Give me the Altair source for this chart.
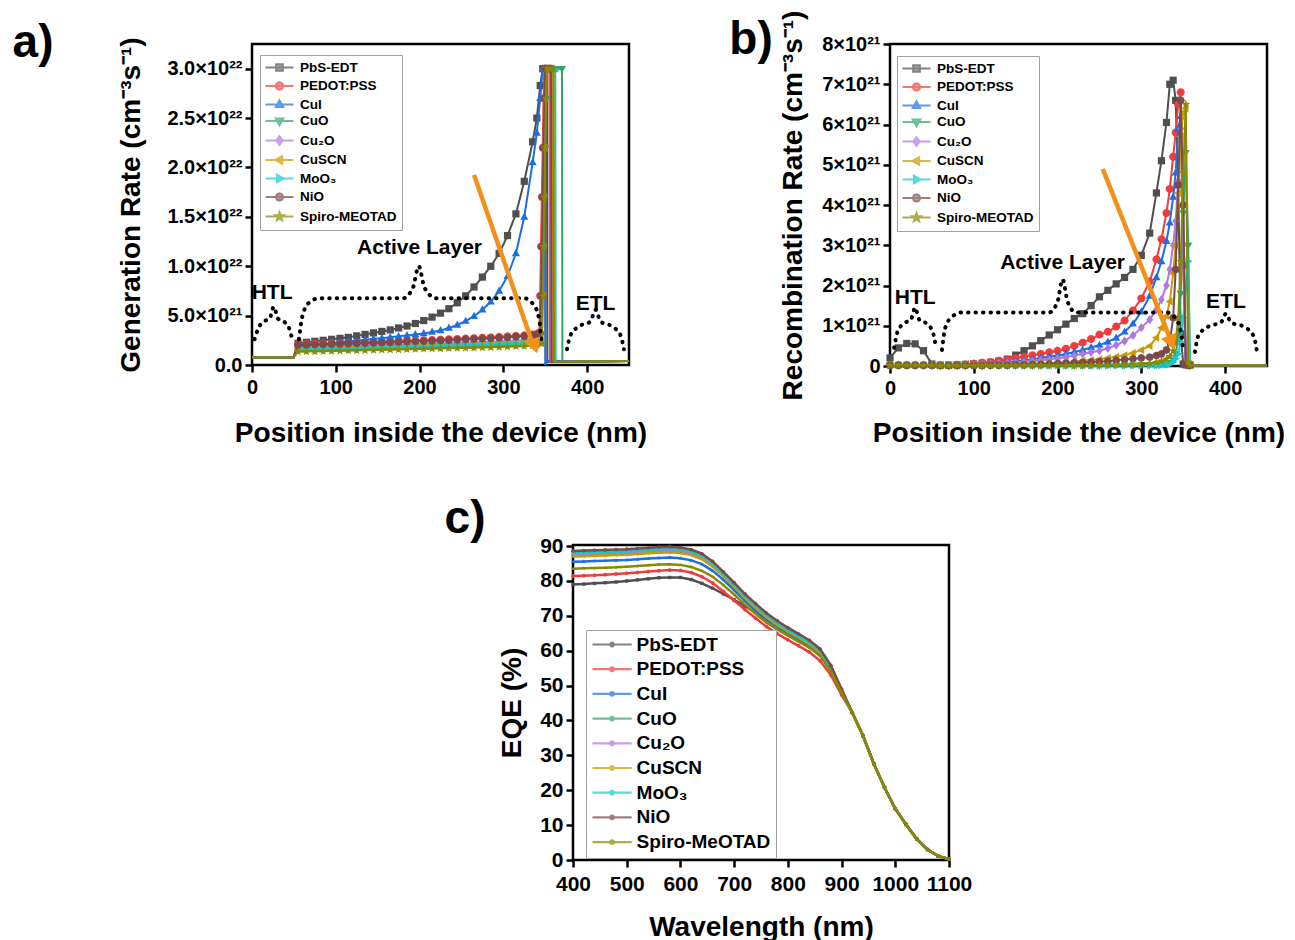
import math
import altair as alt
import pandas as pd

FONT = "Liberation Sans"

SERIES_AB = ["PbS-EDT", "PEDOT:PSS", "CuI", "CuO", "Cu\u2082O", "CuSCN", "MoO\u2083", "NiO", "Spiro-MEOTAD"]
SERIES_C = ["PbS-EDT", "PEDOT:PSS", "CuI", "CuO", "Cu\u2082O", "CuSCN", "MoO\u2083", "NiO", "Spiro-MeOTAD"]
COLORS = ["#4f4f4f", "#f03c3c", "#1d6ee0", "#2fa56a", "#ad78df", "#c99a06", "#16c8cc", "#7c4a4a", "#8a8a00"]

# ---------------- panel a : generation rate (x1e21 cm-3 s-1) ----------------
A_HTL_X = [0, 49.5]
A_HTL_Y = [0.75, 0.75]
A_X = [55, 65, 75, 85, 95, 105, 115, 125, 135, 145, 155, 165, 175, 185, 195,
       205, 215, 225, 235, 245, 255, 265, 275, 285, 295, 305, 315, 325, 335]
A_PBS = [2.2, 2.3, 2.4, 2.5, 2.6, 2.7, 2.8, 2.95, 3.1, 3.25, 3.4, 3.55, 3.75, 3.95, 4.2,
         4.5, 4.85, 5.25, 5.7, 6.3, 7.0, 7.9, 8.9, 10.0, 11.3, 13.1, 15.3, 18.6, 22.6]
A_PEDOT = [2.1, 2.12, 2.15, 2.18, 2.2, 2.22, 2.25, 2.28, 2.3, 2.33, 2.36, 2.39, 2.42, 2.45, 2.48,
           2.51, 2.54, 2.57, 2.6, 2.64, 2.68, 2.72, 2.76, 2.8, 2.85, 2.9, 2.95, 3.0, 3.1]
A_CUI = [1.8, 1.9, 2.0, 2.1, 2.2, 2.3, 2.4, 2.45, 2.55, 2.65, 2.72, 2.8, 2.9, 3.0, 3.1,
         3.2, 3.35, 3.5, 3.75, 4.05, 4.45, 4.95, 5.6, 6.4, 7.5, 9.0, 11.3, 15.0, 20.5]
A_CUO = [1.5, 1.51, 1.52, 1.54, 1.56, 1.58, 1.6, 1.62, 1.64, 1.66, 1.68, 1.7, 1.72, 1.74, 1.76,
         1.78, 1.8, 1.82, 1.84, 1.86, 1.88, 1.9, 1.92, 1.94, 1.97, 2.0, 2.03, 2.06, 2.12]
A_CU2O = [1.85, 1.87, 1.89, 1.91, 1.93, 1.95, 1.97, 1.99, 2.01, 2.03, 2.05, 2.07, 2.09, 2.11, 2.13,
          2.15, 2.17, 2.19, 2.21, 2.24, 2.27, 2.3, 2.33, 2.36, 2.4, 2.44, 2.48, 2.52, 2.6]
A_CUSCN = [1.7, 1.72, 1.74, 1.76, 1.78, 1.8, 1.82, 1.84, 1.86, 1.88, 1.9, 1.92, 1.94, 1.96, 1.98,
           2.0, 2.02, 2.04, 2.06, 2.08, 2.1, 2.12, 2.15, 2.18, 2.21, 2.24, 2.27, 2.3, 2.38]
A_MOO3 = [1.6, 1.62, 1.64, 1.66, 1.68, 1.7, 1.72, 1.74, 1.76, 1.78, 1.8, 1.82, 1.84, 1.86, 1.88,
          1.9, 1.92, 1.94, 1.96, 1.98, 2.0, 2.02, 2.05, 2.08, 2.11, 2.14, 2.17, 2.2, 2.26]
A_NIO = [2.0, 2.02, 2.05, 2.08, 2.1, 2.12, 2.15, 2.18, 2.2, 2.23, 2.26, 2.29, 2.32, 2.35, 2.38,
         2.41, 2.44, 2.47, 2.5, 2.54, 2.58, 2.62, 2.66, 2.7, 2.75, 2.8, 2.85, 2.9, 3.0]
A_SPIRO = [1.35, 1.36, 1.37, 1.39, 1.41, 1.43, 1.45, 1.47, 1.49, 1.51, 1.53, 1.55, 1.57, 1.59, 1.61,
           1.63, 1.65, 1.67, 1.69, 1.71, 1.73, 1.75, 1.77, 1.79, 1.82, 1.85, 1.88, 1.91, 1.96]
# peak / drop / ETL parts
A_TX_PBS = [340, 344, 347, 352, 352.5, 450]
A_TY_PBS = [25.0, 28.3, 30.0, 30.0, 0.3, 0.4]
A_TX_PEDOT = [340, 343, 344, 345, 346, 347, 348, 349, 352, 355, 355.5, 450]
A_TY_PEDOT = [3.15, 3.3, 7.0, 12.0, 17.0, 22.0, 27.0, 30.0, 30.0, 30.0, 0.3, 0.4]
A_TX_CUI = [340, 344, 347, 349.5, 350, 352, 450]
A_TY_CUI = [23.5, 27.0, 30.0, 30.0, 0.0, 0.4, 0.4]
A_TX_CUO = [340, 346, 347, 348, 349, 350, 351, 352, 358, 364, 370, 370.5, 450]
A_TY_CUO = [2.16, 2.3, 7.0, 12.0, 17.0, 22.0, 27.0, 30.0, 30.0, 30.0, 30.0, 0.3, 0.4]
A_TX_CU2O = [340, 344, 345, 346, 347, 348, 349, 350, 353, 356, 356.5, 450]
A_TY_CU2O = [2.65, 2.8, 7.0, 12.0, 17.0, 22.0, 27.0, 30.0, 30.0, 30.0, 0.3, 0.4]
A_TX_CUSCN = [340, 345, 346, 347, 348, 349, 350, 351, 354, 358, 358.5, 450]
A_TY_CUSCN = [2.42, 2.55, 7.0, 12.0, 17.0, 22.0, 27.0, 30.0, 30.0, 30.0, 0.3, 0.4]
A_TX_MOO3 = [340, 345, 346, 347, 348, 349, 350, 351, 356, 362, 362.5, 450]
A_TY_MOO3 = [2.3, 2.45, 7.0, 12.0, 17.0, 22.0, 27.0, 30.0, 30.0, 30.0, 0.3, 0.4]
A_TX_NIO = [340, 344, 345, 346, 347, 348, 349, 350, 354, 357, 357.5, 450]
A_TY_NIO = [3.05, 3.2, 7.0, 12.0, 17.0, 22.0, 27.0, 30.0, 30.0, 30.0, 0.3, 0.4]
A_TX_SPIRO = [340, 346, 347, 348, 349, 350, 351, 352, 356, 360, 360.5, 450]
A_TY_SPIRO = [2.0, 2.15, 7.0, 12.0, 17.0, 22.0, 27.0, 30.0, 30.0, 30.0, 0.3, 0.4]

A_BRACE_X = [[3, 8, 14, 21, 26, 31, 38, 44, 48],
             [56, 60, 68, 80, 180, 192, 199, 206, 220, 325, 337, 343, 345],
             [376, 380, 390, 404, 410, 416, 430, 440, 444]]
A_BRACE_Y = [[2.6, 3.8, 4.4, 4.7, 5.9, 4.7, 4.4, 3.8, 2.6],
             [2.6, 4.9, 6.3, 6.75, 6.75, 7.8, 10.0, 7.8, 6.75, 6.75, 6.0, 4.5, 2.6],
             [1.6, 3.0, 3.9, 4.4, 5.6, 4.4, 3.9, 3.0, 1.6]]
A_LABEL_TEXT = ["HTL", "Active Layer", "ETL"]
A_LABEL_X = [24, 200, 410]
A_LABEL_Y = [7.3, 11.8, 6.2]
A_ARROW_X = [265, 334]
A_ARROW_Y = [19.25, 2.4]
A_HEAD_X = [337.5]
A_HEAD_Y = [1.9]

# ---------------- panel b : recombination rate (x1e21 cm-3 s-1) ----------------
B_X = [0, 10, 20, 30, 40, 50,
       60, 70, 80, 90, 100, 110, 120, 130, 140, 150, 160, 170, 180, 190, 200, 210, 220,
       230, 240, 250, 260, 270, 280, 290, 300,
       310, 318, 324, 330, 334, 338, 341, 344, 347, 350, 353, 356, 358,
       360, 400, 450]
B_PBS = [0.2, 0.45, 0.56, 0.55, 0.38, 0.05,
         0.02, 0.02, 0.03, 0.04, 0.05, 0.07, 0.09, 0.12, 0.17, 0.27, 0.38, 0.5, 0.63, 0.77, 0.9, 1.04, 1.18,
         1.3, 1.5, 1.72, 1.88, 2.04, 2.2, 2.4, 2.75,
         3.3, 4.3, 5.1, 6.05, 7.0, 7.1, 6.6, 4.5, 0.8, 0.05, 0.03, 0.02, 0.02,
         0.02, 0.02, 0.02]
B_PEDOT = [0.02, 0.02, 0.02, 0.02, 0.02, 0.02,
           0.02, 0.02, 0.03, 0.04, 0.06, 0.08, 0.1, 0.13, 0.16, 0.2, 0.23, 0.27, 0.3, 0.34, 0.38, 0.43, 0.5,
           0.58, 0.67, 0.78, 0.85, 0.98, 1.13, 1.38, 1.68,
           2.1, 2.65, 3.15, 3.8, 4.4, 5.2, 5.8, 6.5, 6.8, 2.5, 0.05, 0.02, 0.02,
           0.02, 0.02, 0.02]
B_CUI = [0.02, 0.02, 0.02, 0.02, 0.02, 0.02,
         0.02, 0.02, 0.02, 0.03, 0.04, 0.05, 0.06, 0.08, 0.1, 0.12, 0.14, 0.17, 0.2, 0.23, 0.26, 0.3, 0.35,
         0.4, 0.46, 0.52, 0.6, 0.7, 0.85, 1.05, 1.35,
         1.74, 2.2, 2.6, 3.1, 3.56, 4.2, 4.8, 5.9, 6.2, 4.0, 0.05, 0.02, 0.02,
         0.02, 0.02, 0.02]
B_CUO = [0.02, 0.02, 0.02, 0.02, 0.02, 0.02,
         0.01, 0.01, 0.01, 0.01, 0.01, 0.01, 0.01, 0.01, 0.01, 0.01, 0.01, 0.01, 0.01, 0.01, 0.01, 0.01, 0.01,
         0.01, 0.01, 0.01, 0.02, 0.02, 0.02, 0.02, 0.03,
         0.03, 0.03, 0.04, 0.05, 0.08, 0.15, 0.3, 0.7, 1.8, 3.8, 5.3, 3.0, 0.05,
         0.02, 0.02, 0.02]
B_CU2O = [0.02, 0.02, 0.02, 0.02, 0.02, 0.02,
          0.01, 0.01, 0.02, 0.02, 0.03, 0.04, 0.05, 0.06, 0.07, 0.08, 0.1, 0.12, 0.14, 0.16, 0.19, 0.22, 0.26,
          0.3, 0.34, 0.38, 0.44, 0.52, 0.62, 0.76, 0.95,
          1.15, 1.4, 1.65, 2.0, 2.4, 3.0, 3.6, 4.6, 5.9, 3.0, 0.05, 0.02, 0.02,
          0.02, 0.02, 0.02]
B_CUSCN = [0.02, 0.02, 0.02, 0.02, 0.02, 0.02,
           0.01, 0.01, 0.01, 0.01, 0.02, 0.02, 0.02, 0.03, 0.03, 0.04, 0.05, 0.05, 0.06, 0.07, 0.08, 0.1, 0.11,
           0.13, 0.15, 0.17, 0.2, 0.23, 0.27, 0.32, 0.4,
           0.5, 0.7, 0.95, 1.24, 1.6, 2.3, 3.0, 4.3, 5.7, 6.3, 6.4, 0.1, 0.02,
           0.02, 0.02, 0.02]
B_MOO3 = [0.02, 0.02, 0.02, 0.02, 0.02, 0.02,
          0.01, 0.01, 0.01, 0.01, 0.01, 0.01, 0.01, 0.01, 0.01, 0.01, 0.01, 0.01, 0.01, 0.01, 0.01, 0.01, 0.01,
          0.01, 0.01, 0.01, 0.01, 0.01, 0.01, 0.01, 0.01,
          0.01, 0.02, 0.02, 0.03, 0.05, 0.1, 0.18, 0.3, 0.6, 1.2, 1.9, 2.6, 0.05,
          0.02, 0.02, 0.02]
B_NIO = [0.02, 0.02, 0.02, 0.02, 0.02, 0.02,
         0.01, 0.01, 0.01, 0.01, 0.01, 0.01, 0.02, 0.02, 0.02, 0.03, 0.03, 0.04, 0.04, 0.05, 0.06, 0.07, 0.08,
         0.09, 0.1, 0.11, 0.12, 0.14, 0.16, 0.18, 0.2,
         0.22, 0.26, 0.3, 0.4, 0.6, 1.2, 2.4, 4.5, 6.6, 4.0, 0.05, 0.02, 0.02,
         0.02, 0.02, 0.02]
B_SPIRO = [0.02, 0.02, 0.02, 0.02, 0.02, 0.02,
           0.01, 0.01, 0.01, 0.01, 0.01, 0.01, 0.01, 0.01, 0.01, 0.01, 0.01, 0.01, 0.01, 0.01, 0.01, 0.01, 0.01,
           0.01, 0.01, 0.02, 0.02, 0.03, 0.03, 0.04, 0.05,
           0.06, 0.09, 0.12, 0.17, 0.24, 0.38, 0.6, 1.2, 2.6, 4.8, 6.5, 0.1, 0.02,
           0.02, 0.02, 0.02]

B_BRACE_X = [[5, 9, 16, 25, 30, 35, 44, 51, 55],
             [62, 66, 74, 86, 190, 200, 206, 212, 222, 330, 342, 348, 350],
             [364, 368, 380, 395, 401, 407, 422, 434, 438]]
B_BRACE_Y = [[0.45, 0.85, 1.05, 1.15, 1.45, 1.15, 1.05, 0.85, 0.45],
             [0.4, 0.95, 1.22, 1.33, 1.33, 1.6, 2.15, 1.6, 1.33, 1.33, 1.15, 0.75, 0.35],
             [0.35, 0.75, 0.98, 1.08, 1.3, 1.08, 0.98, 0.75, 0.35]]
B_LABEL_TEXT = ["HTL", "Active Layer", "ETL"]
B_LABEL_X = [30, 206, 401]
B_LABEL_Y = [1.7, 2.55, 1.58]
B_ARROW_X = [254, 333]
B_ARROW_Y = [4.89, 0.75]
B_HEAD_X = [336]
B_HEAD_Y = [0.58]

# ---------------- panel c : EQE (%) ----------------
C_X = [400, 420, 440, 460, 480, 500, 520, 540, 560, 580, 600, 620, 640,
       660, 680, 700, 720, 740, 760, 780, 800, 820, 840, 860, 880, 900]
C_TAIL_X = [920, 940, 960, 980, 1000, 1020, 1040, 1060, 1080, 1100]
C_TAIL_Y = [42.2, 35.6, 27.6, 20.8, 14.7, 10.2, 6.0, 3.0, 1.1, 0.3]
C_PBS = [79.0, 79.1, 79.3, 79.5, 79.7, 80.0, 80.3, 80.6, 80.9, 81.0, 81.0, 80.4, 79.3,
         77.9, 76.3, 74.6, 72.8, 70.9, 69.0, 67.1, 65.3, 63.5, 61.6, 59.1, 54.8, 48.5]
C_PEDOT = [81.4, 81.5, 81.6, 81.8, 82.0, 82.2, 82.4, 82.7, 82.9, 83.1, 83.0, 82.4, 81.2,
           79.4, 77.0, 74.4, 71.8, 69.3, 66.9, 64.9, 63.1, 61.4, 59.6, 57.1, 53.0, 47.3]
C_CUI = [85.5, 85.6, 85.7, 85.8, 85.9, 86.0, 86.2, 86.4, 86.6, 86.7, 86.5, 85.9, 84.8,
         82.9, 80.3, 77.4, 74.3, 71.5, 68.9, 66.8, 64.9, 63.2, 61.4, 58.9, 54.4, 48.2]
C_CUO = [88.3, 88.4, 88.5, 88.6, 88.7, 88.8, 89.0, 89.2, 89.4, 89.5, 89.3, 88.7, 87.5,
         85.3, 82.3, 79.2, 76.0, 73.2, 70.5, 68.3, 66.3, 64.5, 62.7, 60.2, 55.5, 48.8]
C_CU2O = [87.5, 87.6, 87.7, 87.8, 87.9, 88.0, 88.2, 88.4, 88.6, 88.7, 88.5, 87.9, 86.7,
          84.6, 81.7, 78.6, 75.4, 72.6, 69.9, 67.7, 65.7, 63.9, 62.1, 59.6, 55.0, 48.5]
C_CUSCN = [87.0, 87.1, 87.2, 87.3, 87.4, 87.5, 87.7, 87.9, 88.1, 88.2, 88.0, 87.4, 86.2,
           84.1, 81.3, 78.3, 75.1, 72.3, 69.6, 67.4, 65.5, 63.7, 61.9, 59.4, 54.8, 48.4]
C_MOO3 = [88.0, 88.1, 88.2, 88.3, 88.4, 88.5, 88.7, 88.9, 89.1, 89.2, 89.0, 88.4, 87.2,
          85.0, 82.0, 78.9, 75.7, 72.9, 70.2, 68.0, 66.0, 64.2, 62.4, 59.9, 55.2, 48.6]
C_NIO = [88.6, 88.7, 88.8, 88.9, 89.0, 89.1, 89.3, 89.5, 89.7, 89.8, 89.6, 89.0, 87.8,
         85.6, 82.6, 79.5, 76.3, 73.5, 70.8, 68.6, 66.6, 64.8, 63.0, 60.5, 55.8, 49.0]
C_SPIRO = [83.5, 83.6, 83.7, 83.8, 83.9, 84.1, 84.3, 84.5, 84.7, 84.8, 84.6, 84.0, 82.9,
           81.2, 78.8, 76.1, 73.2, 70.6, 68.1, 66.1, 64.3, 62.6, 60.9, 58.5, 54.1, 48.0]

# ---------------- marker shapes (style) ----------------
def circle_pts(n=16):
    return [(math.cos(2 * math.pi * k / n), math.sin(2 * math.pi * k / n)) for k in range(n)]

def star_pts():
    pts = []
    for k in range(10):
        r = 1.15 if k % 2 == 0 else 0.48
        a = math.radians(-90 + 36 * k)
        pts.append((r * math.cos(a), r * math.sin(a)))
    return pts

MARKER_PTS = [
    [(-0.9, -0.9), (0.9, -0.9), (0.9, 0.9), (-0.9, 0.9)],
    circle_pts(),
    [(0, -1.1), (1, 0.7), (-1, 0.7)],
    [(0, 1.1), (1, -0.7), (-1, -0.7)],
    [(0, -1.15), (0.85, 0), (0, 1.15), (-0.85, 0)],
    [(-1.1, 0), (0.7, -1), (0.7, 1)],
    [(1.1, 0), (-0.7, -1), (-0.7, 1)],
    circle_pts(8),
    star_pts(),
]

def poly(pts, s=1.0):
    return "M" + "L".join(f"{x * s:.3f},{y * s:.3f}" for x, y in pts) + "Z"

DATA_SHAPES = [poly(p) for p in MARKER_PTS]
LEG_SHAPES_AB = ["M-2.333,0H2.333" + poly(p, 0.6) for p in MARKER_PTS]
LEG_SHAPES_C = ["M-2.8,0H2.8" + poly(circle_pts(), 0.26) for _ in MARKER_PTS]


def series_frame(series, parts, marker_rule):
    rows = []
    for name, (xs, ys) in zip(series, parts):
        assert len(xs) == len(ys), name
        for i, (x, y) in enumerate(zip(xs, ys)):
            rows.append({"series": name, "x": x, "y": y, "i": i, "m": int(marker_rule(x, y))})
    return pd.DataFrame(rows)


a_mid = [A_PBS, A_PEDOT, A_CUI, A_CUO, A_CU2O, A_CUSCN, A_MOO3, A_NIO, A_SPIRO]
a_tx = [A_TX_PBS, A_TX_PEDOT, A_TX_CUI, A_TX_CUO, A_TX_CU2O, A_TX_CUSCN, A_TX_MOO3, A_TX_NIO, A_TX_SPIRO]
a_ty = [A_TY_PBS, A_TY_PEDOT, A_TY_CUI, A_TY_CUO, A_TY_CU2O, A_TY_CUSCN, A_TY_MOO3, A_TY_NIO, A_TY_SPIRO]
a_parts = [(A_HTL_X + A_X + tx, A_HTL_Y + ym + ty) for ym, tx, ty in zip(a_mid, a_tx, a_ty)]
df_a = series_frame(SERIES_AB, a_parts, lambda x, y: x > 50 and y >= 1)

b_ys = [B_PBS, B_PEDOT, B_CUI, B_CUO, B_CU2O, B_CUSCN, B_MOO3, B_NIO, B_SPIRO]
df_b = series_frame(SERIES_AB, [(B_X, ys) for ys in b_ys], lambda x, y: x <= 358)

c_ys = [C_PBS, C_PEDOT, C_CUI, C_CUO, C_CU2O, C_CUSCN, C_MOO3, C_NIO, C_SPIRO]
df_c = series_frame(SERIES_C, [(C_X + C_TAIL_X, ys + C_TAIL_Y) for ys in c_ys], lambda x, y: True)


def brace_frame(xs_list, ys_list):
    rows = []
    for g, (xs, ys) in enumerate(zip(xs_list, ys_list)):
        for i, (x, y) in enumerate(zip(xs, ys)):
            rows.append({"g": g, "i": i, "x": x, "y": y})
    return pd.DataFrame(rows)


def axis(values, title, label_expr=None, fmt=None, label_size=20, title_pad=6, label_pad=3):
    kw = dict(values=values, title=title, grid=False, domain=False, ticks=True, tickSize=7,
              tickWidth=2.5, tickColor="black", labelFont=FONT, labelFontSize=label_size,
              labelFontWeight="bold", labelColor="black", labelPadding=label_pad,
              labelOverlap=False, labelFlush=False, titleFont=FONT, titleFontSize=28,
              titleFontWeight="bold", titleColor="black", titlePadding=title_pad)
    if label_expr:
        kw["labelExpr"] = label_expr
    if fmt:
        kw["format"] = fmt
    return alt.Axis(**kw)


def legend(x, y, font_size, sym_size, sym_off, lab_off, row_pad):
    return alt.Legend(orient="none", legendX=x, legendY=y, title=None, labelFont=FONT,
                      labelFontSize=font_size, labelFontWeight="bold", labelColor="black",
                      symbolSize=sym_size, symbolStrokeWidth=2.2, symbolOffset=sym_off,
                      labelOffset=lab_off, rowPadding=row_pad, padding=5,
                      strokeColor="#a0a0a0", fillColor="white")


def panel(df, series, X, Y, leg_shapes, leg, marker_size, line_width, label, label_xy, w, h,
          braces=None, labels=None, arrow=None, head_angle=0):
    layers = []
    for k, name in enumerate(series):
        base = alt.Chart(df).transform_filter(alt.datum.series == name)
        layers.append(base.mark_line(color=COLORS[k], strokeWidth=line_width).encode(x=X, y=Y, order="i:Q"))
        layers.append(base.transform_filter(alt.datum.m == 1).mark_point(
            shape=DATA_SHAPES[k], filled=True, size=marker_size, color=COLORS[k], opacity=1
        ).encode(x=X, y=Y))
    if braces is not None:
        layers.append(alt.Chart(braces).mark_line(
            color="black", strokeWidth=4, strokeDash=[0.5, 7], strokeCap="round", interpolate="monotone"
        ).encode(x=X, y=Y, detail="g:N", order="i:Q"))
    if labels is not None:
        layers.append(alt.Chart(labels).mark_text(font=FONT, fontSize=21, fontWeight="bold", color="black").encode(
            x=X, y=Y, text="t:N"))
    if arrow is not None:
        line_df, head_df = arrow
        layers.append(alt.Chart(line_df).mark_line(color="#f39019", strokeWidth=4.5).encode(x=X, y=Y))
        layers.append(alt.Chart(head_df).mark_point(shape="triangle-down", filled=True, size=300,
                                                    color="#f39019", opacity=1, angle=head_angle).encode(x=X, y=Y))
    layers.append(alt.Chart(df).transform_filter("false").mark_point(filled=True).encode(
        x=X, y=Y,
        shape=alt.Shape("series:N", scale=alt.Scale(domain=series, range=leg_shapes), legend=leg),
        fill=alt.Fill("series:N", scale=alt.Scale(domain=series, range=COLORS), legend=leg),
        stroke=alt.Stroke("series:N", scale=alt.Scale(domain=series, range=COLORS), legend=leg),
    ))
    layers.append(alt.Chart(pd.DataFrame({"t": [label]})).mark_text(
        font=FONT, fontSize=46, fontWeight="bold", color="black").encode(
        x=alt.value(label_xy[0]), y=alt.value(label_xy[1]), text="t:N"))
    return alt.layer(*layers).properties(width=w, height=h,
                                         view=alt.ViewBackground(stroke="black", strokeWidth=2.5))


SUP21 = "\u00d710\u00b2\u00b9"
SUP22 = "\u00d710\u00b2\u00b2"

# panel a
XA = alt.X("x:Q", scale=alt.Scale(domain=[0, 450], nice=False, zero=False),
           axis=axis([0, 100, 200, 300, 400], "Position inside the device (nm)", fmt="d",
                     title_pad=22, label_pad=5))
YA = alt.Y("y:Q", scale=alt.Scale(domain=[0, 32.5], nice=False),
           axis=axis([0, 5, 10, 15, 20, 25, 30], "Generation Rate (cm\u207b\u00b3s\u207b\u00b9)",
                     label_expr="datum.value == 0 ? '0.0' : (datum.value < 10 ? format(datum.value, '.1f') + '" + SUP21 + "' : format(datum.value / 10, '.1f') + '" + SUP22 + "')",
                     title_pad=21))
chart_a = panel(
    df_a, SERIES_AB, XA, YA, LEG_SHAPES_AB, legend(8, 11, 13.5, 144, 7, 13, 1.5), 64, 2,
    "a)", (-219, -1), 377, 321,
    braces=brace_frame(A_BRACE_X, A_BRACE_Y),
    labels=pd.DataFrame({"x": A_LABEL_X, "y": A_LABEL_Y, "t": A_LABEL_TEXT}),
    arrow=(pd.DataFrame({"x": A_ARROW_X, "y": A_ARROW_Y}), pd.DataFrame({"x": A_HEAD_X, "y": A_HEAD_Y})),
    head_angle=340.7,
)

# panel b
XB = alt.X("x:Q", scale=alt.Scale(domain=[0, 450], nice=False, zero=False),
           axis=axis([0, 100, 200, 300, 400], "Position inside the device (nm)", fmt="d",
                     title_pad=21, label_pad=5))
YB = alt.Y("y:Q", scale=alt.Scale(domain=[0, 8], nice=False),
           axis=axis([0, 1, 2, 3, 4, 5, 6, 7, 8], "Recombination Rate (cm\u207b\u00b3s\u207b\u00b9)",
                     label_expr="datum.value == 0 ? '0' : format(datum.value, 'd') + '" + SUP21 + "'",
                     title_pad=14))
chart_b = panel(
    df_b, SERIES_AB, XB, YB, LEG_SHAPES_AB, legend(7, 12, 13.5, 144, 7, 13, 1.5), 64, 2,
    "b)", (-139, -4), 377, 322,
    braces=brace_frame(B_BRACE_X, B_BRACE_Y),
    labels=pd.DataFrame({"x": B_LABEL_X, "y": B_LABEL_Y, "t": B_LABEL_TEXT}),
    arrow=(pd.DataFrame({"x": B_ARROW_X, "y": B_ARROW_Y}), pd.DataFrame({"x": B_HEAD_X, "y": B_HEAD_Y})),
    head_angle=338.4,
)

# panel c
XC = alt.X("x:Q", scale=alt.Scale(domain=[400, 1100], nice=False, zero=False),
           axis=axis([400, 500, 600, 700, 800, 900, 1000, 1100], "Wavelength (nm)", fmt="d",
                     label_size=21, title_pad=19, label_pad=6))
YC = alt.Y("y:Q", scale=alt.Scale(domain=[0, 90.3], nice=False),
           axis=axis([0, 10, 20, 30, 40, 50, 60, 70, 80, 90], "EQE (%)", fmt="d", label_size=21,
                     title_pad=13))
chart_c = panel(
    df_c, SERIES_C, XC, YC, LEG_SHAPES_C, legend(13, 85, 19, 196, 11.6, 15, 4.7), 14, 2.5,
    "c)", (-108, -26), 376, 315,
)

spacer = alt.Chart(pd.DataFrame({"x": [0]})).mark_point(opacity=0).encode(
    x=alt.X("x:Q", axis=None), y=alt.Y("x:Q", axis=None)
).properties(width=50, height=10, view=alt.ViewBackground(strokeWidth=0))

IND = dict(shape="independent", fill="independent", stroke="independent")
row1 = alt.hconcat(chart_a, chart_b, spacing=261, bounds="flush").resolve_scale(**IND)
row2 = alt.hconcat(spacer, chart_c, spacing=271, bounds="flush").resolve_scale(**IND)

chart = alt.vconcat(row1, row2, spacing=45).resolve_scale(**IND).properties(
    padding={"left": 3, "top": 0, "right": 0, "bottom": 0}
).configure(font=FONT).configure_view(strokeWidth=0)

chart.save("out.html", embed_options={"renderer": "svg", "actions": False})
